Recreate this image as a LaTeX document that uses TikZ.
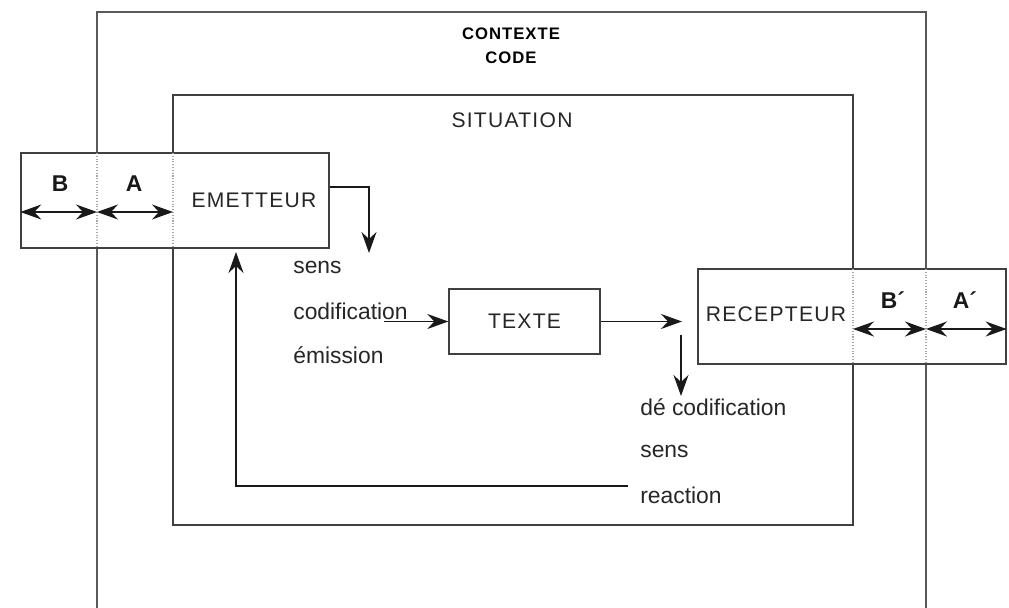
\documentclass[tikz,border=0pt]{standalone}
\usepackage{fontspec}
\setmainfont{Liberation Sans}
\newfontfamily\spaced[LetterSpace=6]{Liberation Sans}
\usetikzlibrary{arrows.meta, positioning}
\tikzset{
	frame/.style={draw=black!65, line width=0.8pt},
	box/.style={draw=black!75, line width=0.8pt, rectangle, inner sep=0pt, fill=white},
	caps/.style={font=\spaced\fontsize{12}{14}\selectfont, text=black!85},
	heavy/.style={font=\spaced\bfseries\fontsize{9.5}{11}\selectfont, text=black},
	letter/.style={font=\bfseries\fontsize{13}{15}\selectfont, text=black!90},
	word/.style={font=\fontsize{13}{15}\selectfont, text=black!85, inner sep=0pt},
	% dotted continuation of the frames inside the boxes
	divider/.style={draw=black!35, densely dotted, line width=0.6pt},
	tip/.style={line width=0.9pt, black!90, >={Stealth[length=4.2mm, width=3mm, inset=1.4mm]}},
}

\begin{document}
\begin{tikzpicture}[x=0.02cm, y=-0.02cm]
	\useasboundingbox (0,0) rectangle (1009,608);

	% context frame, open at the bottom
	\draw[frame] (97,608) -- (97,12) -- (926,12) -- (926,608);
	\node (ctx) [heavy] at (511,34) {CONTEXTE};
	\node (code) [heavy, below=0pt of ctx] {CODE};

	\node (sit) [box, fill=none, minimum width=13.6cm, minimum height=8.6cm] at (513,310) {};
	\node (sitlabel) [caps] at (512,120) {SITUATION};

	% emitter and receiver
	\node (emet) [box, minimum width=6.16cm, minimum height=1.9cm] at (175,200.5) {};
	\node (emetlabel) [caps] at (254,200) {EMETTEUR};
	\node (b) [letter] at (60,184) {B};
	\node (a) [letter] at (134,184) {A};
	\draw[divider] (97,153) -- (97,248);
	\draw[divider] (173,153) -- (173,248);

	\node (recep) [box, minimum width=6.16cm, minimum height=1.9cm] at (852,316.5) {};
	\node (receplabel) [caps] at (776,314) {RECEPTEUR};
	\node (bp) [letter] at (893,300) {B´};
	\node (ap) [letter] at (965,300) {A´};
	\draw[divider] (853,269) -- (853,364);
	\draw[divider] (926,269) -- (926,364);

	\node (texte) [box, caps, minimum width=3.02cm, minimum height=1.3cm] at (524.5,321.5) {TEXTE};

	% labels along the way
	\node (sens) [word, anchor=west] at (293,267) {sens};
	\node (codif) [word, below=0.88cm of sens.west, anchor=west] {codification};
	\node (emis) [word, below=0.88cm of codif.west, anchor=west] {émission};

	\node (decod) [word, anchor=west] at (640,407) {dé codification};
	\node (sens2) [word, below=0.88cm of decod.west, anchor=west] {sens};
	\node (react) [word, below=0.88cm of sens2.west, anchor=west] {reaction};

	\coordinate (e1) at (369,187);
	\coordinate (e2) at (369,253);
	\coordinate (c1) at (384,321.5);
	\coordinate (r1) at (682,321.5);
	\coordinate (d1) at (681,335);
	\coordinate (d2) at (681,396);
	\coordinate (f1) at (628,486);
	\coordinate (f2) at (236,252);
	\coordinate (dv1) at (97,212);
	\coordinate (dv2) at (173,212);
	\coordinate (dv3) at (853,329);
	\coordinate (dv4) at (926,329);

	\begin{scope}[tip]
		\draw[->] (emet.east |- e1) -- (e1) -- (e2);
		\draw[->] (c1) -- (texte.west);
		\draw[->] (texte.east) -- (r1);
		\draw[->] (d1) -- (d2);
		\draw[->] (f1) -| (f2);
		\draw[<->] (emet.west |- dv1) -- (dv1);
		\draw[<->] (dv1) -- (dv2);
		\draw[<->] (dv3) -- (dv4);
		\draw[<->] (dv4) -- (recep.east |- dv4);
	\end{scope}
\end{tikzpicture}
\end{document}
